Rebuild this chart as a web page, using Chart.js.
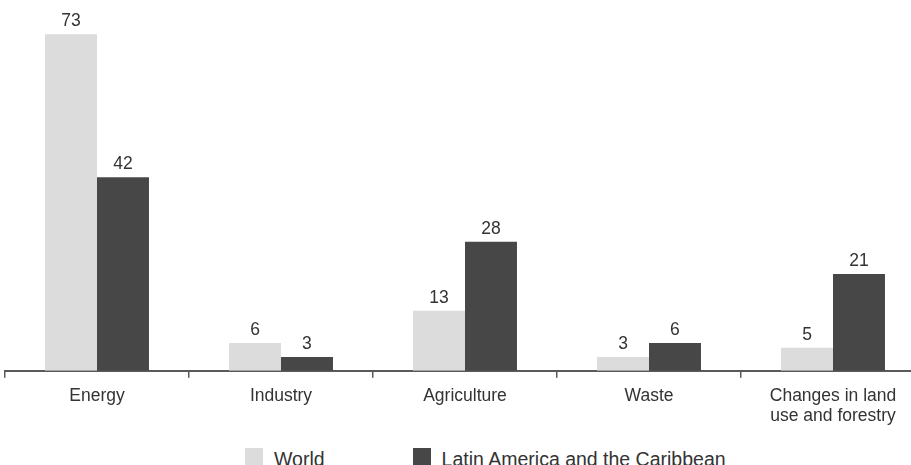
<!DOCTYPE html>
<html>
<head>
<meta charset="utf-8">
<script src="https://cdn.jsdelivr.net/npm/chart.js@4.4.0/dist/chart.umd.min.js"></script>
<style>
  html, body { margin: 0; padding: 0; background: #fff; overflow: hidden; width: 911px; height: 465px; }
  #wrap { position: absolute; left: 0; top: 0; width: 930px; height: 434px; }
  #legend {
    position: absolute; top: 447px; left: 245px;
    display: flex; list-style: none; margin: 0; padding: 0;
    font-family: "Liberation Sans", Arial, sans-serif; font-size: 19.5px; line-height: 24px; color: #333;
  }
  #legend li { display: flex; align-items: flex-start; white-space: nowrap; }
  #legend li + li { margin-left: 88px; }
  #legend .swatch { display: inline-block; width: 18px; height: 18px; margin-right: 11px; margin-top: 1px; }
</style>
</head>
<body>
<div id="wrap"><canvas id="barChart"></canvas></div>
<ul id="legend"></ul>
<script>
const categories = ["Energy", "Industry", "Agriculture", "Waste", ["Changes in land", "use and forestry"]];
const worldValues = [73, 6, 13, 3, 5];
const latamValues = [42, 3, 28, 6, 21];
const seriesNames = ["World", "Latin America and the Caribbean"];

const textColor = "#333333";
const axisColor = "#5a5a5a";
const fontFamily = "'Liberation Sans', Arial, sans-serif";

// value printed above each bar
const barValues = {
  id: "barValues",
  afterDatasetsDraw(chart) {
    const ctx = chart.ctx;
    ctx.save();
    ctx.font = "17.5px " + fontFamily;
    ctx.fillStyle = textColor;
    ctx.textAlign = "center";
    ctx.textBaseline = "alphabetic";
    chart.data.datasets.forEach((ds, i) => {
      chart.getDatasetMeta(i).data.forEach((bar, j) => {
        ctx.fillText(ds.data[j], bar.x, bar.y - 8);
      });
    });
    ctx.restore();
  }
};

// legend rendered as html under the canvas
const htmlLegend = {
  id: "htmlLegend",
  afterUpdate(chart) {
    const list = document.getElementById("legend");
    list.innerHTML = "";
    chart.options.plugins.legend.labels.generateLabels(chart).forEach(item => {
      const li = document.createElement("li");
      const box = document.createElement("span");
      box.className = "swatch";
      box.style.background = item.fillStyle;
      const txt = document.createElement("span");
      txt.textContent = item.text;
      li.appendChild(box);
      li.appendChild(txt);
      list.appendChild(li);
    });
  }
};

const barChart = document.getElementById("barChart").getContext("2d");
new Chart(barChart, {
  type: "bar",
  data: {
    labels: categories,
    datasets: [
      {
        label: seriesNames[0],
        data: worldValues,
        backgroundColor: "#dcdcdc",
        borderWidth: 0,
      },
      {
        label: seriesNames[1],
        data: latamValues,
        backgroundColor: "#474747",
        borderWidth: 0,
      },
    ],
  },
  options: {
    responsive: true,
    maintainAspectRatio: false,
    animation: false,
    layout: { padding: { top: 2, left: 5, right: 5, bottom: 0 } },
    datasets: {
      bar: { categoryPercentage: 0.565, barPercentage: 1.0 },
    },
    scales: {
      x: {
        grid: {
          display: true,
          drawOnChartArea: false,
          drawTicks: true,
          tickLength: 7,
          color: axisColor,
          lineWidth: 1.5,
        },
        border: { display: true, color: axisColor, width: 2 },
        ticks: {
          color: textColor,
          padding: 8,
          maxRotation: 0,
          font: { family: fontFamily, size: 17.5, lineHeight: 1.15 },
        },
      },
      y: {
        display: false,
        min: 0,
        max: 80,
      },
    },
    plugins: {
      legend: { display: false },
      tooltip: { enabled: false },
    },
  },
  plugins: [barValues, htmlLegend],
});
</script>
</body>
</html>
